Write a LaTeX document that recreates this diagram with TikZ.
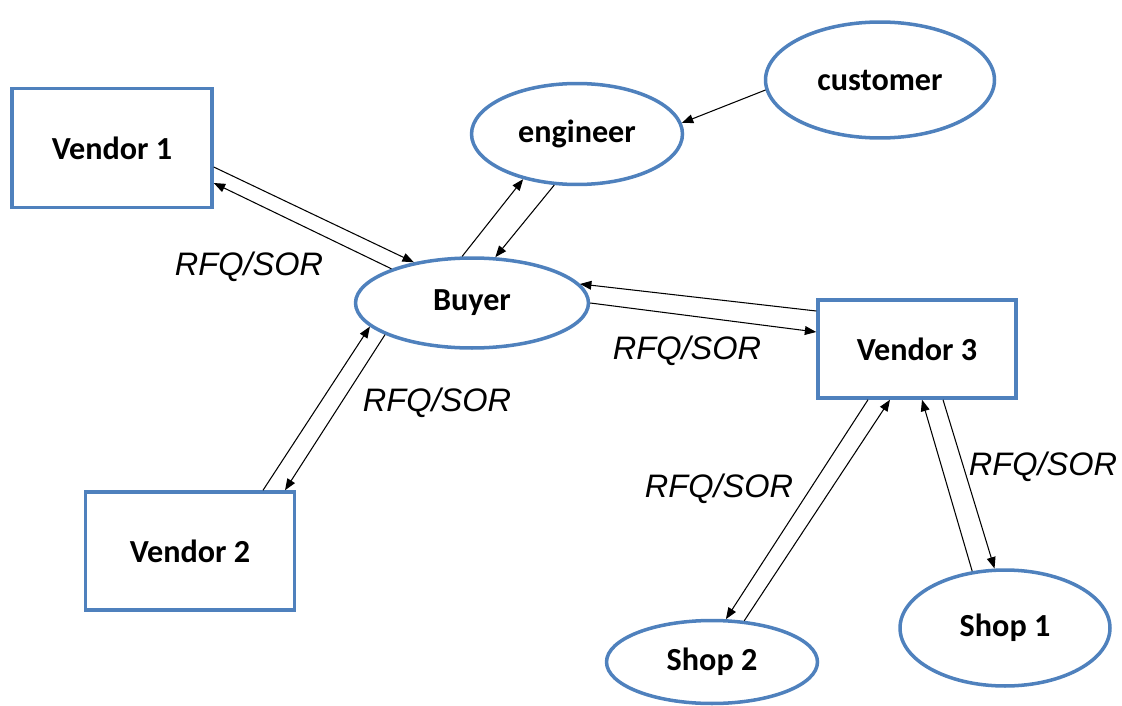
\documentclass[tikz,border=0pt]{standalone}
\usepackage{fontspec}
\newfontfamily\nodefont{Carlito}
\newfontfamily\labelfont{Liberation Sans}
\usetikzlibrary{shapes.geometric,arrows.meta}
\definecolor{nodeblue}{HTML}{4F81BD}
\begin{document}
\begin{tikzpicture}[x=0.02cm,y=-0.02cm,
  box/.style={draw=nodeblue,line width=2pt,rectangle,inner sep=0pt,
    font=\nodefont\bfseries\fontsize{18.3}{22}\selectfont},
  oval/.style={draw=nodeblue,line width=2pt,ellipse,inner sep=0pt,
    font=\nodefont\bfseries\fontsize{18.3}{22}\selectfont},
  flow/.style={-{Triangle[length=6.5pt,width=5pt]},line width=0.6pt,black},
  lbl/.style={font=\labelfont\itshape\fontsize{18.5}{22}\selectfont,inner sep=0pt}]
\useasboundingbox (0,0) rectangle (1122,706);
% nodes
\node[box,minimum width=4cm,minimum height=2.38cm] (v1) at (112,148) {Vendor 1};
\node[box,minimum width=4.18cm,minimum height=2.36cm] (v2) at (190,551) {Vendor 2};
\node[box,minimum width=3.96cm,minimum height=1.96cm] (v3) at (917,349) {Vendor 3};
\node[oval,minimum width=4.22cm,minimum height=2.02cm] (eng) at (577,134) {engineer};
\node[oval,minimum width=4.58cm,minimum height=2.32cm] (cust) at (880,80) {customer};
\node[oval,minimum width=4.66cm,minimum height=1.8cm] (buyer) at (472,303) {Buyer};
\node[oval,minimum width=4.22cm,minimum height=1.66cm] (shop2) at (712,662) {Shop 2};
\node[oval,minimum width=4.2cm,minimum height=2.32cm] (shop1) at (1005,628) {Shop 1};
% connectors
\draw[flow] ([shift={(0,19)}]v1.east) -- (buyer.145);
\draw[flow] (buyer.157) -- ([shift={(0,35)}]v1.east);
\draw[flow] (buyer.102) -- (eng.-140);
\draw[flow] (eng.-114) -- (buyer.63);
\draw[flow] (cust.185) -- (eng.6);
\draw[flow] ([shift={(0,-38)}]v3.west) -- (buyer.10);
\draw[flow] (buyer.0) -- ([shift={(0,-17)}]v3.west);
\draw[flow] ([shift={(73,0)}]v2.north) -- (buyer.-167);
\draw[flow] (buyer.-160) -- ([shift={(95,0)}]v2.north);
\draw[flow] ([shift={(-49,0)}]v3.south) -- (shop2.72);
\draw[flow] (shop2.52) -- ([shift={(-27,0)}]v3.south);
\draw[flow] (shop1.120) -- ([shift={(5,0)}]v3.south);
\draw[flow] ([shift={(26,0)}]v3.south) -- (shop1.100);
% labels
\node[lbl] (l1) at (249,267) {RFQ/SOR};
\node[lbl] (l2) at (687,351) {RFQ/SOR};
\node[lbl] (l3) at (437,403) {RFQ/SOR};
\node[lbl] (l4) at (719,489) {RFQ/SOR};
\node[lbl] (l5) at (1043,467) {RFQ/SOR};
\end{tikzpicture}
\end{document}
